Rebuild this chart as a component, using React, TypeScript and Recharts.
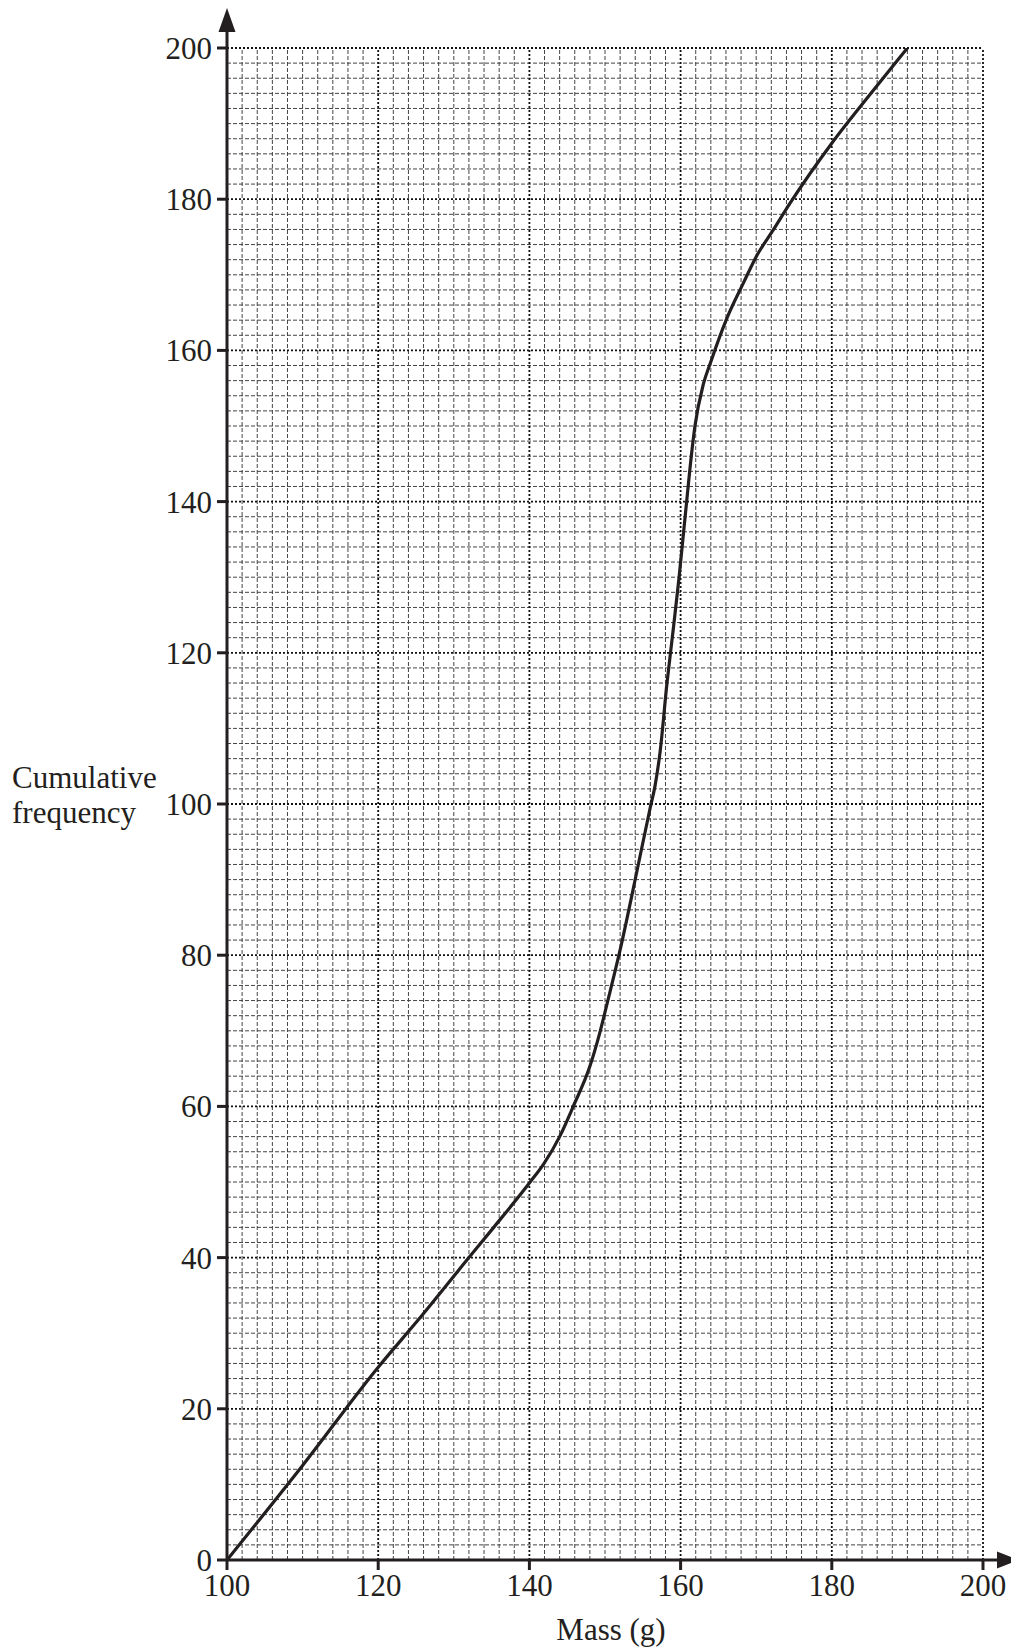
import React from "react";
import { LineChart, Line, XAxis, YAxis, ReferenceLine, Label } from "recharts";

// ---- data ----
const massValues = [100, 110, 120, 125.5, 132, 135.2, 140.1, 141.9, 144, 145.8, 148, 149.3, 150.4, 152, 154.2, 156, 156.6, 157.3, 158.2, 158.9, 159.8, 160.4, 160.8, 161.2, 161.9, 163, 164, 166.1, 168.3, 170, 172.3, 174.5, 180, 185.5, 190];
const cumFreqValues = [0, 12.5, 25.5, 32, 40, 43.9, 50, 52.4, 56, 60, 65.3, 69.7, 74.1, 80.7, 91, 99.6, 102.3, 107, 116, 122, 130, 136, 140, 144, 150, 155.5, 158.5, 164.2, 168.9, 172.4, 176, 179.5, 187.4, 194.4, 200];
const xTicks = [100, 120, 140, 160, 180, 200];
const yTicks = [0, 20, 40, 60, 80, 100, 120, 140, 160, 180, 200];
const xMajorGrid = [120, 140, 160, 180, 200];
const yMajorGrid = [20, 40, 60, 80, 100, 120, 140, 160, 180, 200];
const xMinorGrid: number[] = [];
for (let v = 102; v < 200; v += 2) if (v % 20 !== 0) xMinorGrid.push(v);
const yMinorGrid: number[] = [];
for (let v = 2; v < 200; v += 2) if (v % 20 !== 0) yMinorGrid.push(v);

const data = massValues.map((m, i) => ({ mass: m, cf: cumFreqValues[i] }));

// ---- layout ----
const W = 1011;
const H = 1644;
const Y_AXIS_W = 219;
const M_TOP = 40;
const M_RIGHT = 36;
const X_AXIS_H = 60;
const M_BOTTOM = 32;
const PLOT_LEFT = Y_AXIS_W;
const PLOT_RIGHT = W - M_RIGHT;
const PLOT_BOTTOM = H - M_BOTTOM - X_AXIS_H;
const INK = "#231f20";
const FONT = "'Liberation Serif', 'Times New Roman', serif";
const FS = 31;

const XDecor = () => (
  <g>
    <line x1={PLOT_RIGHT} y1={PLOT_BOTTOM} x2={W - 18} y2={PLOT_BOTTOM} stroke={INK} strokeWidth={3} />
    <polygon points={`${W},${PLOT_BOTTOM} ${W - 22},${PLOT_BOTTOM - 8.5} ${W - 22},${PLOT_BOTTOM + 8.5}`} fill={INK} />
    <text x={603} y={1632} textAnchor="middle" fontFamily={FONT} fontSize={FS} fill={INK}>
      Mass (g)
    </text>
  </g>
);

const YDecor = () => (
  <g>
    <line x1={PLOT_LEFT} y1={M_TOP} x2={PLOT_LEFT} y2={18} stroke={INK} strokeWidth={3} />
    <polygon points={`${PLOT_LEFT},0 ${PLOT_LEFT - 8.5},24 ${PLOT_LEFT + 8.5},24`} fill={INK} />
    <text x={4} fontFamily={FONT} fontSize={FS} fill={INK}>
      <tspan x={4} y={780}>Cumulative</tspan>
      <tspan x={4} y={815}>frequency</tspan>
    </text>
  </g>
);

export default function App() {
  return (
    <LineChart
      width={W}
      height={H}
      data={data}
      margin={{ top: M_TOP, right: M_RIGHT, bottom: M_BOTTOM, left: 0 }}
    >
      <XAxis
        dataKey="mass"
        type="number"
        domain={[100, 200]}
        ticks={xTicks}
        allowDataOverflow
        height={X_AXIS_H}
        axisLine={{ stroke: INK, strokeWidth: 3 }}
        tickLine={{ stroke: INK, strokeWidth: 3 }}
        tickSize={10}
        tickMargin={4}
        tick={{ fontFamily: FONT, fontSize: FS, fill: INK }}
        interval={0}
      >
        <Label content={() => <XDecor />} />
      </XAxis>
      <YAxis
        type="number"
        domain={[0, 200]}
        ticks={yTicks}
        allowDataOverflow
        width={Y_AXIS_W}
        axisLine={{ stroke: INK, strokeWidth: 3 }}
        tickLine={{ stroke: INK, strokeWidth: 3 }}
        tickSize={10}
        tickMargin={5}
        tick={{ fontFamily: FONT, fontSize: FS, fill: INK }}
        interval={0}
      >
        <Label content={() => <YDecor />} />
      </YAxis>
      {xMinorGrid.map((v) => (
        <ReferenceLine key={"xm" + v} x={v} stroke="#444" strokeWidth={1} strokeDasharray="4 2" />
      ))}
      {yMinorGrid.map((v) => (
        <ReferenceLine key={"ym" + v} y={v} stroke="#444" strokeWidth={1} strokeDasharray="4 2" />
      ))}
      {xMajorGrid.map((v) => (
        <ReferenceLine key={"xM" + v} x={v} stroke="#111" strokeWidth={1.8} strokeDasharray="2 2" />
      ))}
      {yMajorGrid.map((v) => (
        <ReferenceLine key={"yM" + v} y={v} stroke="#111" strokeWidth={1.8} strokeDasharray="2 2" />
      ))}
      <Line
        type="monotone"
        dataKey="cf"
        stroke={INK}
        strokeWidth={3.2}
        dot={false}
        activeDot={false}
        isAnimationActive={false}
      />
    </LineChart>
  );
}
